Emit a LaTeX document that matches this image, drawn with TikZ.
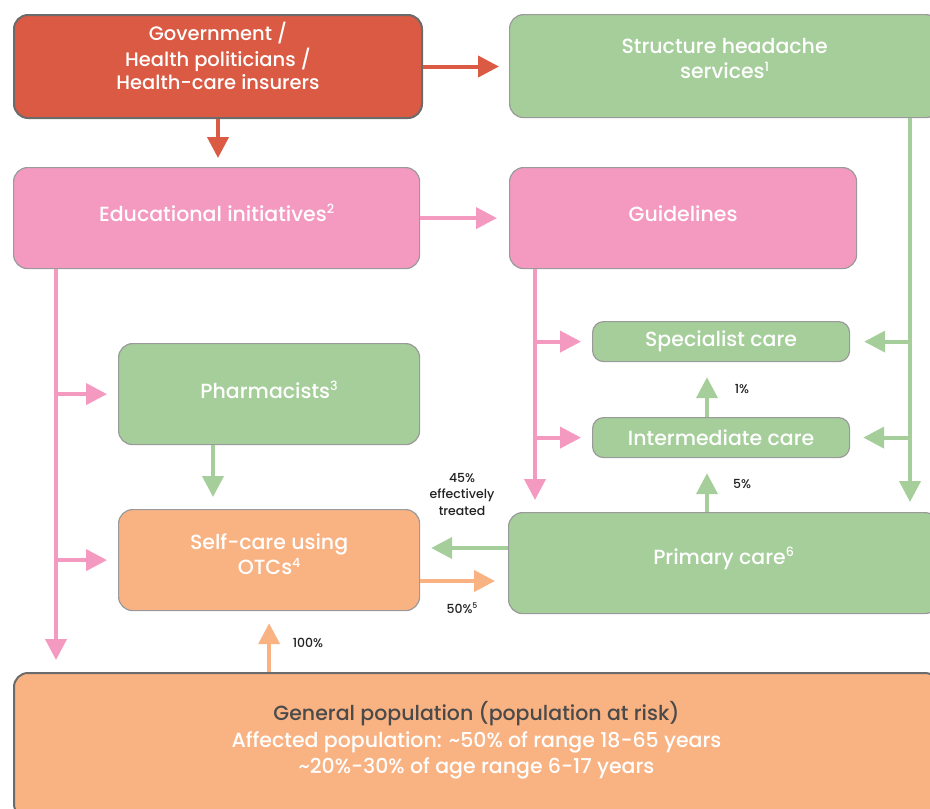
\documentclass[tikz,border=0pt]{standalone}
\usepackage{fontspec}
\setmainfont{Poppins}[UprightFont={* Medium}]
\usetikzlibrary{arrows.meta}
\definecolor{cred}{HTML}{DA5A43}
\definecolor{cgreen}{HTML}{A5CE9A}
\definecolor{cpink}{HTML}{F49AC1}
\definecolor{corange}{HTML}{F9B383}
\definecolor{cdark}{HTML}{6B6B6B}
\definecolor{cbord}{HTML}{9A9A9A}
\definecolor{ctext}{HTML}{222222}
\definecolor{cpoptext}{HTML}{4A4A4A}
\newcommand{\upby}[2]{\raisebox{#1}[\height][\depth]{\begin{tabular}{@{}c@{}}#2\end{tabular}}}
\newcommand{\smsup}[1]{\raisebox{0.36em}{\fontsize{0.62em}{0.62em}\selectfont #1}}
\begin{document}
\begin{tikzpicture}[x=1pt,y=-1pt,
  box/.style={draw=cbord, line width=1.2pt, rounded corners=14pt, text=white,
    align=center, font=\fontsize{20.5}{25.5}\selectfont, inner sep=0pt, anchor=north west},
  smallbox/.style={box, rounded corners=11pt},
  arr/.style={line width=4pt, -{Triangle[width=21pt,length=21pt]}},
  lbl/.style={font=\fontsize{12.5}{16.5}\selectfont, text=ctext, align=center}]
\useasboundingbox (0,0) rectangle (930,809);
\clip (0,0) rectangle (930,809);

\node[box, fill=cred, draw=cdark, line width=2pt, minimum width=408pt, minimum height=103pt, font=\fontsize{19.5}{23.5}\selectfont] (gov) at (13,14) {\upby{7pt}{Government /\\Health politicians /\\Health-care insurers}};
\node[box, fill=cgreen, minimum width=430pt, minimum height=103pt] (struct) at (509,14) {\upby{5pt}{Structure headache\\services\smsup{1}}};
\node[box, fill=cpink, minimum width=406pt, minimum height=101pt] (edu) at (13,167) {\upby{2pt}{Educational initiatives\smsup{2}}};
\node[box, fill=cpink, minimum width=347pt, minimum height=101pt] (guide) at (509,167) {\upby{2pt}{Guidelines}};
\node[smallbox, fill=cgreen, minimum width=257pt, minimum height=40pt] (spec) at (592,321) {Specialist care};
\node[smallbox, fill=cgreen, minimum width=257pt, minimum height=40pt] (inter) at (592,417) {Intermediate care};
\node[box, fill=cgreen, minimum width=301pt, minimum height=101pt] (pharm) at (118,343) {\upby{1pt}{Pharmacists\smsup{3}}};
\node[box, fill=corange, minimum width=301pt, minimum height=101pt] (self) at (118,509) {\upby{3pt}{Self-care using\\OTCs\smsup{4}}};
\node[box, fill=cgreen, minimum width=430pt, minimum height=101pt] (prim) at (508,512) {\upby{4pt}{Primary care\smsup{6}}};
\node[box, fill=corange, draw=cdark, line width=2pt, minimum width=925pt, minimum height=145pt, font=\fontsize{20.5}{26.5}\selectfont] (pop) at (13,672) {\upby{4pt}{\textcolor{cpoptext}{General population (population at risk)}\\Affected population: \textasciitilde50\% of range 18-65 years\\\textasciitilde20\%-30\% of age range 6-17 years}};

\coordinate (pL) at (56,0);
\coordinate (pinkend) at (56,660);
\coordinate (gL) at (535,0);
\coordinate (sR) at (910,0);
\coordinate (phx) at (213,0);
\coordinate (cx) at (707,0);
\coordinate (ya) at (0,548);
\coordinate (yb) at (0,581);

\draw[arr, cred, shorten >=10pt] (gov.east) -- (struct.west |- gov.east);
\draw[arr, cred, shorten >=9pt] (gov.south) -- (edu.north -| gov.south);
\draw[arr, cpink, shorten >=12pt] (edu.east) -- (guide.west);

\draw[arr, cpink] (edu.south -| pL) -- (pinkend);
\draw[arr, cpink, shorten >=11pt] (pL |- pharm.west) -- (pharm.west);
\draw[arr, cpink, shorten >=11pt] (pL |- self.west) -- (self.west);

\draw[arr, cpink, shorten >=12pt] (guide.south -| gL) -- (prim.north -| gL);
\draw[arr, cpink, shorten >=11pt] (gL |- spec.west) -- (spec.west);
\draw[arr, cpink, shorten >=11pt] (gL |- inter.west) -- (inter.west);

\draw[arr, cgreen, shorten >=10pt] (struct.south -| sR) -- (prim.north -| sR);
\draw[arr, cgreen, shorten >=14pt] (sR |- spec.east) -- (spec.east);
\draw[arr, cgreen, shorten >=13pt] (sR |- inter.east) -- (inter.east);

\draw[arr, cgreen, shorten >=12pt] (pharm.south -| phx) -- (self.north -| phx);
\draw[arr, cgreen, shorten >=11pt] (prim.west |- ya) -- (self.east |- ya);
\draw[arr, corange, shorten >=13pt] (self.east |- yb) -- (prim.west |- yb);
\draw[arr, cgreen, shorten >=15pt] (prim.north -| cx) -- (inter.south -| cx);
\draw[arr, cgreen, shorten >=15pt] (inter.north -| cx) -- (spec.south -| cx);
\draw[arr, corange, shorten >=12pt] (pop.north -| self.south) -- (self.south);

\node[lbl] (l45) at (462,494) {45\%\\effectively\\treated};
\node[lbl] (l50) at (462,608) {50\%\smsup{5}};
\node[lbl] (l5) at (742,484) {5\%};
\node[lbl] (l1) at (742,389) {1\%};
\node[lbl] (l100) at (308,643) {100\%};
\end{tikzpicture}
\end{document}
